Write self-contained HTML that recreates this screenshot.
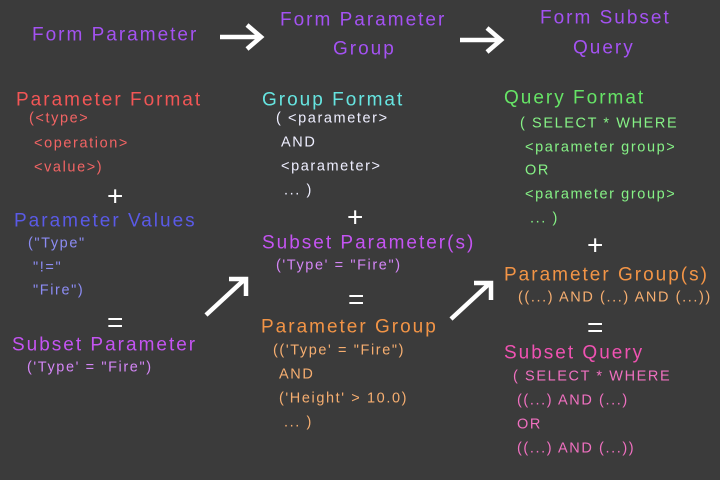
<!DOCTYPE html>
<html><head><meta charset="utf-8"><style>
body{margin:0;width:720px;height:480px;background:#3b3b3b;overflow:hidden;position:relative;font-family:"Liberation Sans",sans-serif}
div{position:absolute;white-space:nowrap;line-height:1;transform:translateY(-45%)}
.h{font-size:19px;letter-spacing:2px}
.s{font-size:14.5px;letter-spacing:1.6px}
.op{font-size:28px;color:#fff}
.t{color:#a452f2}
.r{color:#f25656}.r2{color:#f26464}
.b{color:#5a5ae6}.b2{color:#8c8cf4}
.p{color:#c454f2}.p2{color:#d486f6}
.c{color:#66e4e0}.w{color:#eef}
.g{color:#66e466}.g2{color:#86f286}
.o{color:#f29446}.o2{color:#f6ae70}
.k{color:#f052b2}.k2{color:#f070c0}
</style></head><body>
<div class="h t" style="left:32px;top:34px">Form Parameter</div>
<div class="h t" style="left:280px;top:19px">Form Parameter</div>
<div class="h t" style="left:333px;top:48px">Group</div>
<div class="h t" style="left:540px;top:17px">Form Subset</div>
<div class="h t" style="left:573px;top:47px">Query</div>
<svg width="720" height="480" style="position:absolute;left:0;top:0" fill="none" stroke="#fff" stroke-width="4.5" stroke-linecap="butt">
<path d="M220 37H259M247 25L261 37L247 49"/>
<path d="M460 40H499M487 28L501 40L487 52"/>
<path d="M206 315L245 279M229 279H246V296"/>
<path d="M451 319L490 283M474 283H491V300"/>
</svg>

<div class="h r" style="left:16px;top:99px">Parameter Format</div>
<div class="s r2" style="left:29px;top:118px">(&lt;type&gt;</div>
<div class="s r2" style="left:34px;top:143px">&lt;operation&gt;</div>
<div class="s r2" style="left:34px;top:167px">&lt;value&gt;)</div>
<div class="op" style="left:107px;top:195px">+</div>
<div class="h b" style="left:14px;top:220px">Parameter Values</div>
<div class="s b2" style="left:28px;top:243px">("Type"</div>
<div class="s b2" style="left:33px;top:267px">"!="</div>
<div class="s b2" style="left:33px;top:290px">"Fire")</div>
<div class="op" style="left:107px;top:321px">=</div>
<div class="h p" style="left:12px;top:344px">Subset Parameter</div>
<div class="s p2" style="left:27px;top:367px">('Type' = "Fire")</div>

<div class="h c" style="left:262px;top:99px">Group Format</div>
<div class="s w" style="left:276px;top:118px">( &lt;parameter&gt;</div>
<div class="s w" style="left:281px;top:142px">AND</div>
<div class="s w" style="left:281px;top:166px">&lt;parameter&gt;</div>
<div class="s w" style="left:284px;top:190px">... )</div>
<div class="op" style="left:347px;top:216px">+</div>
<div class="h p" style="left:262px;top:242px">Subset Parameter(s)</div>
<div class="s p2" style="left:276px;top:265px">('Type' = "Fire")</div>
<div class="op" style="left:348px;top:298px">=</div>
<div class="h o" style="left:261px;top:326px">Parameter Group</div>
<div class="s o2" style="left:273px;top:350px">(('Type' = "Fire")</div>
<div class="s o2" style="left:279px;top:374px">AND</div>
<div class="s o2" style="left:279px;top:398px">('Height' &gt; 10.0)</div>
<div class="s o2" style="left:284px;top:422px">... )</div>

<div class="h g" style="left:504px;top:97px">Query Format</div>
<div class="s g2" style="left:520px;top:123px">( SELECT * WHERE</div>
<div class="s g2" style="left:525px;top:147px">&lt;parameter group&gt;</div>
<div class="s g2" style="left:525px;top:170px">OR</div>
<div class="s g2" style="left:525px;top:194px">&lt;parameter group&gt;</div>
<div class="s g2" style="left:530px;top:218px">... )</div>
<div class="op" style="left:587px;top:244px">+</div>
<div class="h o" style="left:504px;top:274px">Parameter Group(s)</div>
<div class="s o2" style="left:518px;top:297px">((...) AND (...) AND (...))</div>
<div class="op" style="left:587px;top:326px">=</div>
<div class="h k" style="left:504px;top:352px">Subset Query</div>
<div class="s k2" style="left:513px;top:376px">( SELECT * WHERE</div>
<div class="s k2" style="left:517px;top:400px">((...) AND (...)</div>
<div class="s k2" style="left:517px;top:424px">OR</div>
<div class="s k2" style="left:517px;top:448px">((...) AND (...))</div>
</body></html>
